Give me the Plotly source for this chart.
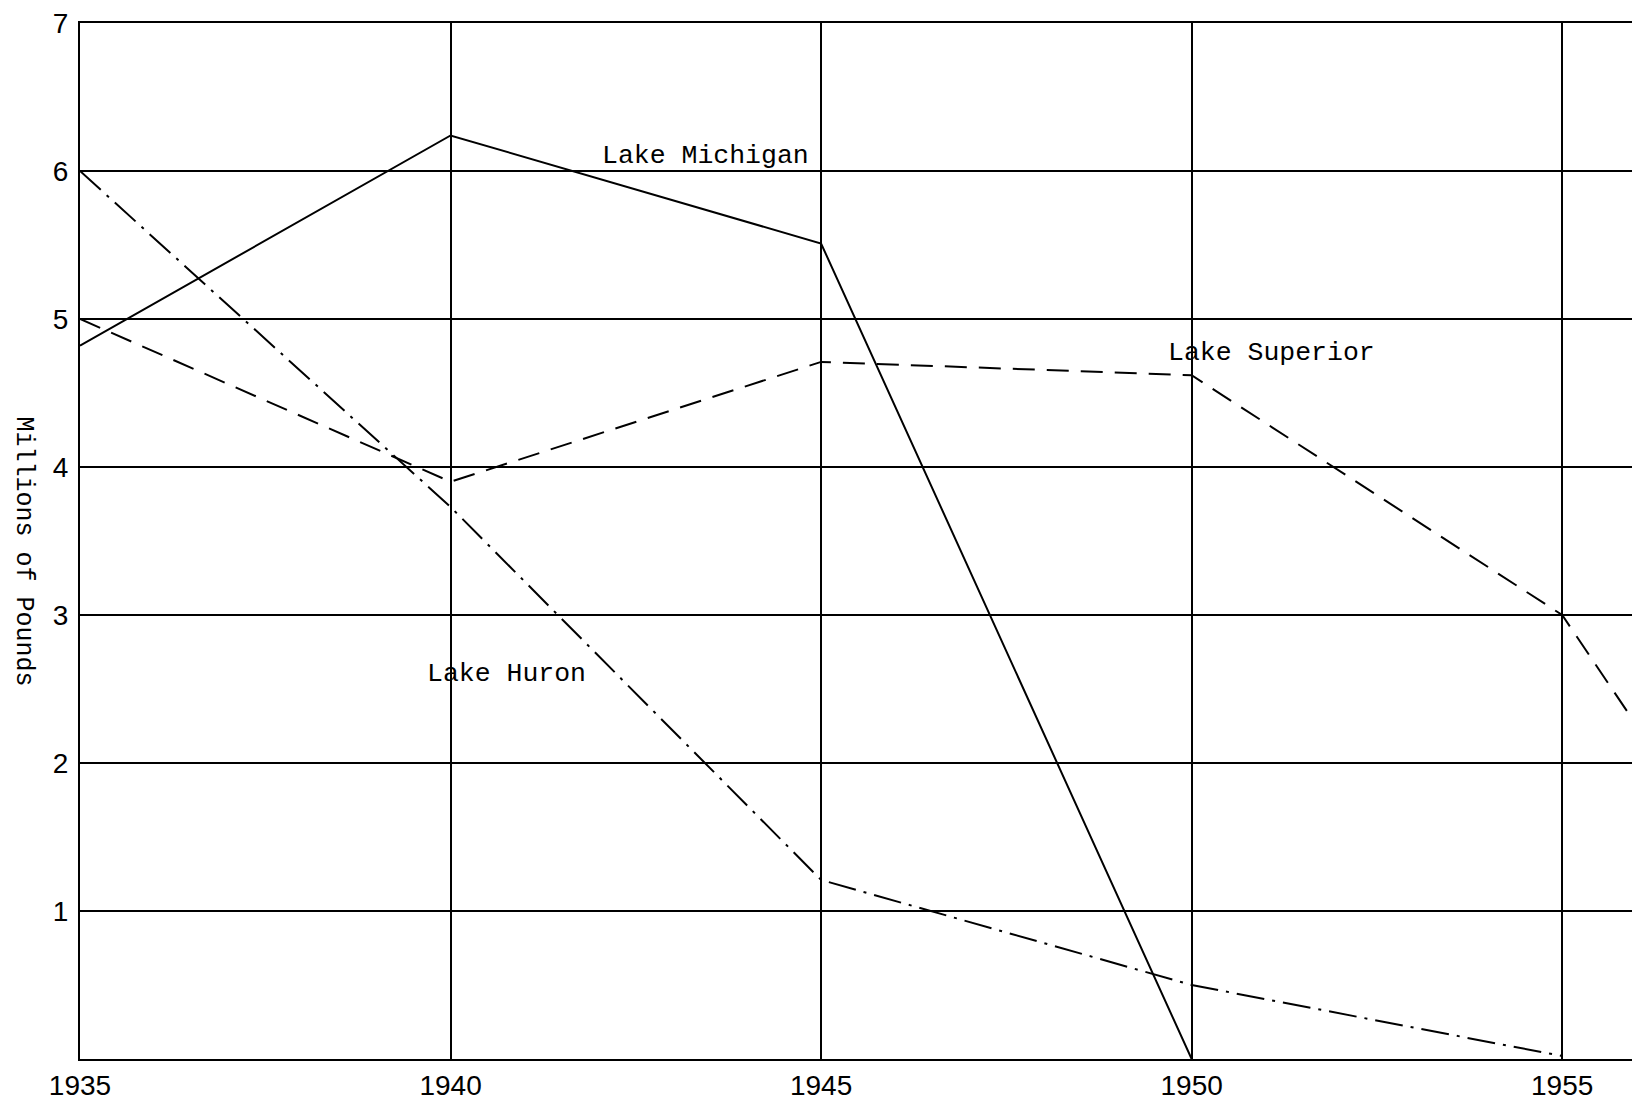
import plotly.graph_objects as go

michigan_years = [1935, 1940, 1945, 1950]
michigan = [4.82, 6.24, 5.51, 0.0]
superior_years = [1935, 1940, 1945, 1950, 1955, 1956.05]
superior = [5.0, 3.9, 4.71, 4.62, 3.0, 2.22]
huron_years = [1935, 1940, 1945, 1950, 1955]
huron = [6.0, 3.73, 1.21, 0.5, 0.02]
y_ticks = [1, 2, 3, 4, 5, 6, 7]
x_ticks = [1935, 1940, 1945, 1950, 1955]

labels = [
    ("Lake Michigan", 1942.02, 6.1),
    ("Lake Superior", 1949.65, 4.77),
    ("Lake Huron", 1939.65, 2.6),
]

fig = go.Figure()
fig.add_trace(go.Scatter(x=michigan_years, y=michigan, mode="lines",
                         line=dict(color="black", width=2), name="Lake Michigan"))
fig.add_trace(go.Scatter(x=superior_years, y=superior, mode="lines",
                         line=dict(color="black", width=2, dash="22px,12px"), name="Lake Superior"))
fig.add_trace(go.Scatter(x=huron_years, y=huron, mode="lines",
                         line=dict(color="black", width=2, dash="28px,8px,3px,8px"), name="Lake Huron"))

for text, x, y in labels:
    fig.add_annotation(x=x, y=y, text=text, showarrow=False, xanchor="left", yanchor="middle",
                       font=dict(family="Liberation Mono", size=26.5, color="black"))

fig.add_annotation(x=-0.036, y=0.49, xref="paper", yref="paper", text="Millions of Pounds",
                   textangle=90, showarrow=False, xanchor="center", yanchor="middle",
                   font=dict(family="Liberation Mono", size=25, color="black"))

fig.update_xaxes(range=[1935, 1956.05], tickvals=x_ticks, showgrid=True, gridcolor="black",
                 gridwidth=1.5, showline=True, linecolor="black", linewidth=2, mirror=True,
                 ticks="", zeroline=False, ticklabeloverflow="allow",
                 tickfont=dict(family="Liberation Sans", size=28, color="black"))
fig.update_yaxes(range=[0, 7], tickvals=y_ticks, showgrid=True, gridcolor="black",
                 gridwidth=1.5, showline=True, linecolor="black", linewidth=2,
                 ticks="", zeroline=False, ticklabelstandoff=4, ticklabeloverflow="allow",
                 tickfont=dict(family="Liberation Sans", size=28, color="black"))

fig.update_layout(width=1632, height=1094, plot_bgcolor="white", paper_bgcolor="white",
                  showlegend=False, margin=dict(l=72, r=0, t=13, b=43))

fig.write_html("out.html")
